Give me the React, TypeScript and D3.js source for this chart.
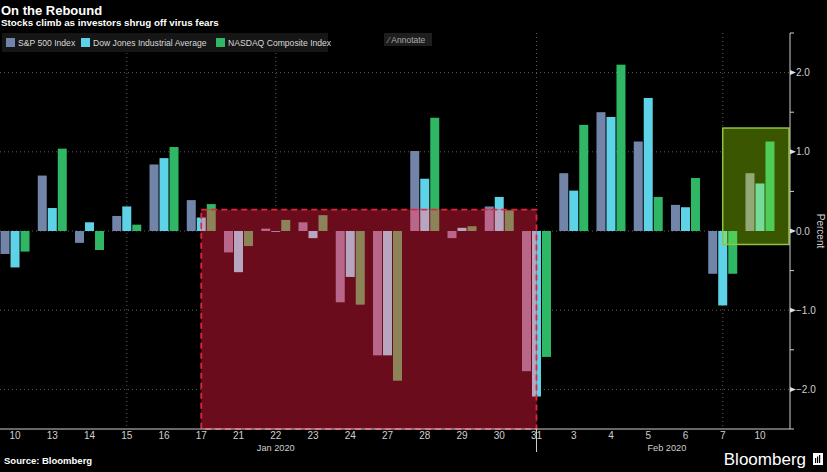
import React, { useRef, useEffect } from 'react';
import * as d3 from 'd3';

// trading days shown on the x axis
const days = ['10', '13', '14', '15', '16', '17', '21', '22', '23', '24', '27', '28', '29', '30', '31', '3', '4', '5', '6', '7', '10'];
const dayMonth = ['Jan', 'Jan', 'Jan', 'Jan', 'Jan', 'Jan', 'Jan', 'Jan', 'Jan', 'Jan', 'Jan', 'Jan', 'Jan', 'Jan', 'Jan', 'Feb', 'Feb', 'Feb', 'Feb', 'Feb', 'Feb'];
const months = ['Jan', 'Feb'];

// daily change, percent
const spx = [-0.29, 0.70, -0.15, 0.19, 0.84, 0.39, -0.27, 0.03, 0.11, -0.90, -1.57, 1.01, -0.09, 0.31, -1.77, 0.73, 1.50, 1.13, 0.33, -0.54, 0.73];
const dji = [-0.46, 0.29, 0.11, 0.31, 0.92, 0.17, -0.52, -0.01, -0.09, -0.58, -1.57, 0.66, 0.04, 0.43, -2.09, 0.51, 1.44, 1.68, 0.30, -0.94, 0.60];
const ccmp = [-0.26, 1.04, -0.24, 0.08, 1.06, 0.34, -0.19, 0.14, 0.20, -0.93, -1.89, 1.43, 0.06, 0.26, -1.59, 1.34, 2.10, 0.43, 0.67, -0.54, 1.13];

const seriesNames = ['S&P 500 Index', 'Dow Jones Industrial Average', 'NASDAQ Composite Index'];
const seriesValues = [spx, dji, ccmp];
const seriesColors = ['#7384a9', '#5ed3e8', '#2fb765'];
const redTint = ['#b8668a', '#b8a6c0', '#8c8458'];
const greenTint = ['#93a876', '#74dc96', '#4fcc58'];

const yTicks = [-2, -1, 0, 1, 2];
const yMinor = [-2.5, -1.5, -0.5, 0.5, 1.5, 2.5];
const gridDays = [3, 7, 14, 19];

// highlight boxes: [from day index, to day index, top value, bottom value]
const redBox = { from: 5, to: 14, top: 0.27, bottom: -2.5 };
const greenBox = { from: 19, to: 20, top: 1.3, bottom: -0.17 };

const W = 827;
const H = 472;

const App: React.FC = () => {
  const svgRef = useRef<SVGSVGElement>(null);

  useEffect(() => {
    document.body.style.margin = '0';
    document.body.style.background = '#000';
    if (!svgRef.current) return;
    const svg = d3.select(svgRef.current);
    svg.selectAll('*').remove();

    const font = '"Liberation Sans", Arial, sans-serif';
    const axisX = 790;
    const axisY = 429;

    const x = d3.scaleBand<number>().domain(d3.range(days.length)).range([-3.6, 778.6]);
    const xs = d3.scaleBand<number>().domain([0, 1, 2]).range([-14.5, 14.5]).paddingInner(0.1);
    const y = d3.scaleLinear().domain([-2.5, 2.5]).range([axisY, 33]);
    const cx = (i: number) => (x(i) as number) + x.bandwidth() / 2;

    svg.append('rect').attr('width', W).attr('height', H).attr('fill', '#000');

    // gridlines
    const grid = svg.append('g').attr('stroke', '#5a5a5a').attr('stroke-dasharray', '1,3').attr('stroke-width', 1);
    yTicks.forEach((v) => {
      grid.append('line').attr('x1', 0).attr('x2', axisX).attr('y1', y(v)).attr('y2', y(v));
    });
    gridDays.forEach((i) => {
      grid.append('line').attr('x1', cx(i)).attr('x2', cx(i)).attr('y1', 33).attr('y2', axisY);
    });

    const drawBars = (g: d3.Selection<SVGGElement, unknown, null, undefined>, colors: string[]) => {
      seriesValues.forEach((vals, s) => {
        g.selectAll(null)
          .data(vals)
          .enter()
          .append('rect')
          .attr('x', (_, i) => cx(i) + (xs(s) as number))
          .attr('width', xs.bandwidth())
          .attr('y', (v) => y(Math.max(0, v)))
          .attr('height', (v) => Math.abs(y(v) - y(0)))
          .attr('fill', colors[s]);
      });
    };

    drawBars(svg.append('g'), seriesColors);

    // highlight boxes
    const boxes = [
      { b: redBox, fill: '#6a0c1b', tint: redTint, stroke: '#e4243e', dash: '6,4', x2: cx(redBox.to) },
      { b: greenBox, fill: '#3a5600', tint: greenTint, stroke: '#8fc43c', dash: null, x2: axisX - 1 },
    ];
    const defs = svg.append('defs');
    boxes.forEach((bx, k) => {
      const x1 = cx(bx.b.from);
      const y1 = y(bx.b.top);
      const y2 = y(bx.b.bottom);
      defs.append('clipPath').attr('id', `clip${k}`)
        .append('rect').attr('x', x1).attr('y', y1).attr('width', bx.x2 - x1).attr('height', y2 - y1);
      svg.append('rect').attr('x', x1).attr('y', y1).attr('width', bx.x2 - x1).attr('height', y2 - y1).attr('fill', bx.fill);
      const tg = svg.append('g').attr('clip-path', `url(#clip${k})`);
      drawBars(tg, bx.tint);
      svg.append('rect').attr('x', x1).attr('y', y1).attr('width', bx.x2 - x1).attr('height', y2 - y1)
        .attr('fill', 'none').attr('stroke', bx.stroke).attr('stroke-width', bx.dash ? 1.8 : 1.5)
        .attr('stroke-dasharray', bx.dash);
    });

    // x axis
    svg.append('line').attr('x1', 0).attr('x2', axisX).attr('y1', axisY).attr('y2', axisY).attr('stroke', '#cfcfcf');
    days.forEach((d, i) => {
      svg.append('text').attr('x', cx(i)).attr('y', axisY + 10).attr('text-anchor', 'middle')
        .attr('font-family', font).attr('font-size', 10).attr('fill', '#cfcfcf').text(d);
    });
    months.forEach((m, k) => {
      const idx = d3.range(days.length).filter((i) => dayMonth[i] === m);
      const mid = (cx(idx[0]) + cx(idx[idx.length - 1])) / 2;
      svg.append('text').attr('x', mid).attr('y', axisY + 22).attr('text-anchor', 'middle')
        .attr('font-family', font).attr('font-size', 9.2).attr('fill', '#cfcfcf').text(`${m} 2020`);
      if (k < months.length - 1) {
        const last = cx(idx[idx.length - 1]);
        svg.append('line').attr('x1', last).attr('x2', last).attr('y1', axisY).attr('y2', axisY + 23).attr('stroke', '#cfcfcf');
      }
    });

    // right y axis
    svg.append('line').attr('x1', axisX).attr('x2', axisX).attr('y1', 33).attr('y2', axisY).attr('stroke', '#cfcfcf');
    yMinor.forEach((v) => {
      svg.append('line').attr('x1', axisX).attr('x2', axisX + 4).attr('y1', y(v)).attr('y2', y(v)).attr('stroke', '#cfcfcf');
    });
    yTicks.forEach((v) => {
      const yy = y(v);
      svg.append('path').attr('d', `M${axisX},${yy - 2.5}L${axisX + 6},${yy}L${axisX},${yy + 2.5}Z`).attr('fill', '#e0e0e0');
      svg.append('text').attr('x', axisX + 6).attr('y', yy + 3.5).attr('font-family', font).attr('font-size', 10)
        .attr('fill', '#cfcfcf').text(d3.format('.1f')(v));
    });
    svg.append('text').attr('transform', `translate(817,${y(0)}) rotate(90)`).attr('text-anchor', 'middle')
      .attr('font-family', font).attr('font-size', 10).attr('fill', '#cfcfcf').text('Percent');

    // titles
    svg.append('text').attr('x', 1).attr('y', 15).attr('font-family', font).attr('font-weight', 'bold')
      .attr('font-size', 13).attr('fill', '#fff').text('On the Rebound');
    svg.append('text').attr('x', 1).attr('y', 26).attr('font-family', font).attr('font-weight', 'bold')
      .attr('font-size', 9.8).attr('fill', '#fff').text('Stocks climb as investors shrug off virus fears');

    // legend
    svg.append('rect').attr('x', 2).attr('y', 33).attr('width', 326).attr('height', 19).attr('fill', '#161616');
    const legendX = [6, 81, 216];
    seriesNames.forEach((n, s) => {
      svg.append('rect').attr('x', legendX[s]).attr('y', 38).attr('width', 9).attr('height', 9).attr('fill', seriesColors[s]);
      svg.append('text').attr('x', legendX[s] + 12).attr('y', 46).attr('font-family', font).attr('font-size', 8.6)
        .attr('fill', '#d8d8d8').text(n);
    });

    // annotate button
    svg.append('rect').attr('x', 384).attr('y', 33).attr('width', 48).attr('height', 13).attr('fill', '#1e1e1e');
    svg.append('text').attr('x', 388).attr('y', 43).attr('font-family', font).attr('font-size', 8.5)
      .attr('fill', '#aaa').text('⁄  Annotate');

    // footer
    svg.append('text').attr('x', 4).attr('y', 464).attr('font-family', font).attr('font-weight', 'bold')
      .attr('font-size', 9.5).attr('fill', '#fff').text('Source: Bloomberg');
    svg.append('text').attr('x', 806).attr('y', 465).attr('text-anchor', 'end').attr('font-family', font)
      .attr('font-size', 17).attr('fill', '#fff').text('Bloomberg');
    svg.append('rect').attr('x', 813).attr('y', 453).attr('width', 10).attr('height', 12).attr('fill', '#fff');
    [2, 4, 6].forEach((dx, k) => {
      svg.append('rect').attr('x', 813 + dx).attr('y', 458 - k * 1.5).attr('width', 1.2).attr('height', 5 + k * 1.5).attr('fill', '#000');
    });
  }, []);

  return <svg ref={svgRef} width={W} height={H} style={{ display: 'block' }} />;
};

export default App;
